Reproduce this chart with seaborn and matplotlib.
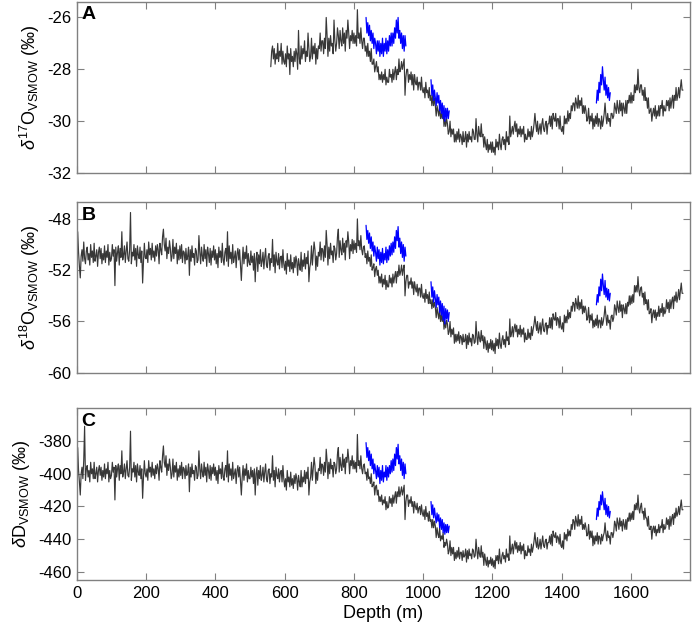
import numpy as np
import pandas as pd
import matplotlib
matplotlib.use('Agg')
import matplotlib.pyplot as plt
import seaborn as sns

# ---- values: grey record every 2.5 m, blue segments every 2.5 m
step = 2.5

# delta 17O (grey record starts at 560 m)
d17_start = 560.0
d17_gray = [
    -27.9, -27.3, -27.1, -27.6, -27.2, -27.8, -27.4, -27.6, -27.0, -27.7, -27.3, -27.5, -27.0, -27.8, -27.3, -27.7,
    # 600
    -27.8, -27.4, -27.9, -27.1, -27.6, -27.4, -28.2, -27.2, -27.7, -27.5, -27.9, -27.3, -27.7, -27.2, -27.4, -28.0, -26.5, -27.6, -27.8, -27.1,
    -27.6, -27.2, -27.4, -26.9, -27.7, -27.3, -27.5, -26.6, -27.2, -27.7, -27.5, -26.8, -27.6, -27.1, -27.4, -27.0, -27.8, -27.2, -27.6, -27.1,
    # 700
    -27.2, -26.6, -27.3, -26.9, -26.9, -27.4, -26.8, -27.2, -26.0, -26.7, -27.5, -26.8, -27.3, -26.7, -27.1, -27.0, -27.4, -26.1, -26.9, -27.3,
    -27.0, -26.4, -26.7, -27.2, -26.5, -26.9, -27.1, -26.4, -27.0, -26.6, -27.3, -26.5, -26.8, -26.1, -26.6, -27.2, -26.7, -26.9, -26.5, -27.0,
    # 800
    -26.6, -27.0, -26.7, -27.1, -25.7, -26.8, -26.6, -27.0, -26.4, -26.9, -27.2, -26.8, -26.8, -27.3, -27.1, -27.5, -27.0, -27.5, -27.3, -27.7,
    -27.2, -27.8, -27.8, -27.6, -28.1, -27.9, -27.7, -28.1, -27.9, -28.4, -28.2, -28.4, -28.1, -28.5, -28.2, -28.4, -28.0, -28.6, -28.3, -28.5,
    # 900
    -28.5, -28.0, -28.3, -28.2, -28.5, -28.0, -28.4, -28.1, -27.9, -28.4, -28.0, -28.2, -27.6, -28.1, -28.0, -27.7, -28.0, -27.8, -27.6, -29.0,
    -28.3, -28.0, -28.0, -28.5, -28.2, -28.4, -28.1, -28.6, -28.2, -28.8, -28.2, -28.5, -28.6, -28.3, -28.8, -28.5, -28.5, -28.8, -28.3, -28.8,
    # 1000
    -28.9, -28.7, -29.1, -28.5, -28.9, -28.8, -29.1, -28.7, -29.2, -29.0, -29.4, -29.0, -29.4, -29.1, -29.4, -29.8, -29.4, -29.6, -29.8, -29.4,
    -29.9, -29.7, -29.9, -29.6, -30.2, -29.9, -30.2, -29.9, -30.1, -30.5, -30.4, -30.0, -30.6, -30.3, -30.5, -30.3, -30.8, -30.5, -30.8, -30.4,
    # 1100
    -30.7, -30.3, -30.8, -30.5, -30.6, -30.9, -30.4, -30.8, -30.7, -30.4, -31.0, -30.5, -30.8, -30.4, -30.7, -30.6, -30.8, -30.3, -30.4, -30.7,
    -30.7, -29.9, -30.5, -30.8, -30.2, -30.5, -30.6, -30.1, -30.6, -30.5, -31.0, -30.6, -30.9, -31.1, -30.7, -31.2, -30.9, -31.1, -30.8, -31.2,
    # 1200
    -30.8, -31.2, -31.0, -31.3, -30.7, -31.0, -30.8, -31.1, -30.5, -30.9, -31.1, -30.7, -30.6, -30.9, -30.7, -31.1, -30.4, -30.8, -30.6, -30.9,
    -29.8, -30.6, -30.4, -30.2, -30.5, -30.2, -30.0, -30.4, -30.1, -30.6, -30.3, -30.5, -30.2, -30.6, -30.3, -30.5, -30.2, -30.8, -30.5, -30.7,
    # 1300
    -30.7, -30.3, -30.6, -30.4, -30.7, -30.2, -30.6, -30.4, -30.1, -29.7, -30.1, -30.4, -30.0, -30.5, -30.3, -30.1, -30.5, -30.1, -29.9, -30.3,
    -30.4, -30.1, -30.0, -30.5, -30.1, -30.1, -29.8, -30.2, -29.8, -30.3, -29.7, -29.9, -30.0, -29.7, -30.2, -29.9, -29.9, -30.3, -29.8, -30.3,
    # 1400
    -30.4, -30.2, -30.5, -29.8, -30.1, -29.9, -30.1, -29.6, -30.0, -29.7, -29.9, -29.4, -29.6, -29.3, -29.3, -29.6, -29.1, -29.3, -29.5, -29.0,
    -29.5, -29.2, -29.4, -29.1, -29.7, -29.4, -29.7, -29.4, -29.6, -30.0, -29.9, -29.5, -30.1, -29.8, -30.0, -29.7, -30.3, -29.9, -30.2, -29.8,
    # 1500
    -30.1, -29.7, -30.2, -29.9, -30.0, -30.3, -29.8, -30.2, -30.0, -29.7, -29.3, -29.8, -30.1, -29.7, -30.0, -29.9, -30.2, -29.7, -29.7, -29.9,
    -29.8, -29.3, -29.5, -29.7, -29.2, -29.5, -29.7, -29.2, -29.6, -29.3, -29.8, -29.3, -29.5, -29.7, -29.2, -29.7, -29.2, -29.3, -29.0, -29.3,
    # 1600
    -28.9, -29.3, -29.0, -29.2, -28.6, -28.9, -28.6, -28.8, -28.0, -28.7, -28.9, -28.6, -28.6, -29.0, -28.8, -29.2, -28.7, -29.2, -29.1, -29.5,
    -29.1, -29.7, -29.6, -29.5, -30.0, -29.7, -29.5, -29.8, -29.4, -29.9, -29.6, -29.8, -29.4, -29.8, -29.4, -29.5, -29.2, -29.8, -29.4, -29.6,
    # 1700
    -29.6, -29.2, -29.4, -29.2, -29.6, -29.1, -29.5, -29.2, -29.0, -29.5, -29.0, -29.2, -28.7, -29.2, -29.0, -28.7, -29.1, -28.7, -28.4, -28.8,
    -28.8,
]
d17_blue = [
    [-26.0, -26.6, -26.2, -26.7, -26.3, -26.9, -26.5, -27.0, -26.6, -27.2,
     -26.8, -27.0, -27.4, -26.9, -27.3, -26.9, -27.5, -27.0, -27.4, -26.8,
     -27.5, -27.0, -27.3, -26.8, -27.4, -26.9, -27.3, -26.7, -27.1, -26.6,
     -27.1, -26.6, -27.0, -26.4, -26.8, -26.1, -26.6, -26.0, -26.8, -26.5,
     -27.0, -26.6, -27.2, -26.7, -27.3, -26.7, -27.1],
    [-28.4, -29.0, -28.6, -29.2, -28.8, -29.1, -29.4, -28.9, -29.3, -29.0, -29.6,
     -29.2, -29.7, -29.3, -29.9, -29.4, -30.0, -29.5, -29.9, -29.5, -29.9, -29.6],
    [-29.3, -28.8, -29.2, -28.5, -28.9, -28.2, -28.6, -27.9, -28.4, -28.8, -28.3,
     -29.0, -28.6, -29.1, -28.7, -29.2, -28.9],
]

# delta 18O (grey record from 0 m)
d18_start = 0.0
d18_gray = [
    -50.3, -49.0, -50.6, -51.7, -52.6, -50.9, -50.4, -51.3, -49.8, -51.1, -51.5, -50.5, -50.2, -51.2, -50.7, -51.6, -50.0, -51.0, -50.5, -51.4,
    -49.9, -51.3, -50.9, -50.4, -51.7, -50.6, -50.2, -51.1, -50.3, -51.5, -50.7, -51.2, -50.1, -51.4, -50.5, -51.0, -50.0, -51.6, -50.6, -51.3,
    # 100
    -51.1, -50.0, -50.9, -50.4, -53.2, -50.2, -51.3, -50.6, -50.1, -51.6, -50.3, -51.0, -49.0, -51.2, -50.8, -50.1, -51.4, -50.5, -49.8, -51.1,
    -51.3, -50.4, -47.5, -51.5, -50.6, -50.9, -50.0, -51.2, -50.3, -51.7, -50.1, -50.8, -51.1, -50.2, -51.4, -50.5, -53.0, -51.3, -49.9, -51.0,
    # 200
    -51.1, -50.4, -51.4, -49.8, -50.8, -50.3, -51.2, -49.9, -51.0, -50.5, -51.3, -50.1, -50.9, -50.0, -50.4, -51.5, -49.9, -50.4, -50.8, -49.4,
    -48.8, -50.0, -50.5, -49.5, -51.1, -50.2, -50.7, -49.7, -50.3, -51.3, -50.9, -49.6, -51.1, -50.2, -50.7, -49.9, -51.5, -50.4, -51.2, -50.1,
    # 300
    -51.1, -50.0, -51.4, -50.5, -50.6, -51.5, -50.3, -51.2, -50.9, -50.2, -52.4, -50.4, -51.3, -50.1, -51.0, -50.7, -51.6, -50.3, -50.5, -51.4,
    -51.2, -49.3, -50.6, -51.5, -50.2, -50.9, -51.3, -50.0, -51.1, -50.4, -51.7, -50.2, -50.7, -51.4, -50.3, -51.6, -50.5, -51.0, -50.1, -51.2,
    # 400
    -50.4, -51.5, -50.7, -51.8, -50.2, -51.0, -50.5, -51.4, -49.9, -51.2, -51.6, -50.6, -50.3, -51.3, -49.0, -51.7, -50.1, -51.1, -50.6, -51.5,
    -50.0, -51.4, -51.0, -50.5, -51.8, -50.7, -50.3, -51.2, -50.4, -51.6, -52.8, -51.3, -50.2, -51.5, -50.6, -51.1, -50.1, -51.7, -50.7, -51.4,
    # 500
    -51.6, -50.5, -51.4, -50.9, -52.0, -50.7, -52.9, -51.1, -50.6, -52.1, -50.8, -51.5, -50.4, -51.7, -51.3, -50.6, -51.9, -51.0, -50.3, -51.6,
    -51.8, -50.9, -50.7, -52.0, -51.1, -51.4, -49.6, -51.7, -50.8, -52.2, -50.6, -51.3, -51.6, -50.7, -51.9, -51.0, -50.9, -51.8, -50.4, -51.5,
    # 600
    -52.0, -51.3, -52.3, -50.7, -51.7, -51.2, -52.1, -50.8, -51.9, -51.4, -52.2, -51.0, -51.8, -50.9, -51.3, -52.4, -51.1, -51.6, -52.0, -50.6,
    -52.1, -51.2, -51.7, -50.7, -51.9, -51.0, -51.5, -50.5, -52.9, -51.8, -51.4, -50.1, -51.6, -50.7, -49.8, -50.4, -52.0, -50.9, -51.7, -50.6,
    # 700
    -50.9, -49.8, -51.2, -50.3, -50.4, -51.3, -50.1, -51.0, -48.9, -50.0, -51.6, -50.2, -51.1, -49.9, -50.8, -50.5, -51.4, -50.1, -50.3, -51.2,
    -50.7, -49.4, -48.8, -51.0, -49.7, -50.4, -50.8, -49.5, -50.6, -49.9, -51.2, -49.7, -50.2, -49.0, -49.8, -51.1, -50.0, -50.5, -49.6, -50.7,
    # 800
    -49.7, -50.4, -49.9, -50.6, -48.0, -50.1, -49.7, -50.4, -49.3, -50.4, -50.8, -50.2, -50.1, -51.0, -50.7, -51.5, -50.5, -51.3, -51.0, -51.7,
    -50.8, -52.0, -51.8, -51.5, -52.5, -51.9, -51.7, -52.4, -52.0, -53.0, -52.5, -53.0, -52.3, -53.3, -52.7, -53.1, -52.4, -53.5, -52.8, -53.3,
    # 900
    -53.3, -52.4, -53.0, -52.6, -53.3, -52.3, -53.0, -52.5, -52.1, -53.0, -52.1, -52.5, -51.6, -52.4, -52.1, -51.6, -52.4, -51.9, -51.6, -54.0,
    -52.9, -52.4, -52.4, -53.4, -52.9, -53.1, -52.6, -53.4, -52.9, -53.9, -52.9, -53.4, -53.7, -53.1, -54.0, -53.4, -53.4, -54.1, -53.1, -54.0,
    # 1000
    -54.2, -53.8, -54.5, -53.5, -54.2, -53.9, -54.6, -53.7, -54.6, -54.3, -55.0, -54.3, -54.9, -54.5, -54.9, -55.7, -54.9, -55.4, -55.8, -54.9,
    -56.0, -55.5, -56.0, -55.4, -56.6, -56.0, -56.5, -55.9, -56.2, -57.0, -56.8, -56.0, -57.2, -56.6, -57.0, -56.5, -57.7, -57.0, -57.6, -57.0,
    # 1100
    -57.5, -56.8, -57.7, -57.1, -57.2, -57.8, -57.0, -57.6, -57.5, -57.0, -58.1, -57.1, -57.8, -56.9, -57.6, -57.3, -57.9, -57.0, -57.1, -57.7,
    -57.6, -56.0, -57.2, -57.8, -56.8, -57.3, -57.6, -56.7, -57.5, -57.1, -58.1, -57.2, -57.7, -58.2, -57.5, -58.4, -57.7, -58.1, -57.4, -58.2,
    # 1200
    -57.5, -58.3, -57.7, -58.5, -57.3, -57.9, -57.4, -58.1, -56.9, -57.8, -58.1, -57.4, -57.1, -57.8, -57.4, -58.0, -56.8, -57.5, -57.2, -57.8,
    -55.8, -57.2, -56.9, -56.4, -57.2, -56.5, -56.2, -56.8, -56.3, -57.2, -56.6, -57.0, -56.3, -57.2, -56.6, -57.0, -56.5, -57.6, -56.9, -57.4,
    # 1300
    -57.4, -56.6, -57.3, -56.9, -57.4, -56.4, -57.1, -56.6, -56.2, -55.6, -56.2, -56.7, -56.0, -56.9, -56.6, -56.1, -57.0, -56.3, -55.8, -56.7,
    -56.8, -56.2, -56.1, -57.0, -56.3, -56.5, -55.7, -56.5, -55.7, -56.6, -55.4, -55.8, -55.9, -55.3, -56.3, -55.7, -55.8, -56.5, -55.6, -56.4,
    # 1400
    -56.6, -56.1, -56.8, -55.5, -56.1, -55.6, -56.1, -55.1, -55.8, -55.3, -55.7, -54.8, -55.2, -54.5, -54.6, -55.2, -54.2, -54.6, -55.0, -54.0,
    -55.1, -54.5, -55.0, -54.3, -55.4, -54.8, -55.3, -54.8, -55.1, -55.9, -55.7, -54.9, -56.1, -55.5, -55.9, -55.4, -56.5, -55.9, -56.4, -55.8,
    # 1500
    -56.3, -55.5, -56.5, -55.9, -55.9, -56.5, -55.7, -56.3, -56.0, -55.5, -54.8, -55.6, -56.3, -55.5, -56.1, -55.9, -56.6, -55.6, -55.5, -56.0,
    -55.7, -54.7, -55.0, -55.5, -54.4, -54.9, -55.3, -54.4, -55.2, -54.7, -55.7, -54.7, -55.0, -55.4, -54.6, -55.4, -54.5, -54.8, -54.0, -54.7,
    # 1600
    -54.0, -54.6, -53.9, -54.5, -53.2, -53.7, -53.2, -53.7, -52.5, -53.5, -54.0, -53.4, -53.3, -54.1, -53.8, -54.7, -53.7, -54.6, -54.3, -55.1,
    -54.3, -55.4, -55.3, -55.0, -56.1, -55.4, -55.1, -55.7, -55.1, -55.9, -55.3, -55.6, -54.8, -55.6, -55.0, -55.3, -54.6, -55.6, -54.9, -55.4,
    # 1700
    -55.2, -54.3, -55.0, -54.5, -55.3, -54.3, -55.0, -54.4, -54.1, -55.0, -54.0, -54.4, -53.7, -54.5, -54.1, -53.5, -54.3, -53.6, -53.0, -53.8,
    -53.8,
]
d18_blue = [
    [-48.5, -49.6, -48.9, -49.9, -49.1, -50.3, -49.4, -50.5, -49.8, -50.9,
     -50.1, -50.6, -51.3, -50.2, -51.1, -50.4, -51.6, -50.6, -51.4, -50.3,
     -51.5, -50.7, -51.2, -50.2, -51.4, -50.4, -51.2, -50.1, -50.9, -49.9,
     -50.8, -49.8, -50.6, -49.4, -50.3, -48.9, -49.7, -48.6, -50.2, -49.5,
     -50.7, -49.8, -51.0, -50.0, -51.3, -50.2, -50.9],
    [-52.9, -54.1, -53.3, -54.5, -53.6, -54.2, -54.9, -53.9, -54.7, -54.1, -55.3,
     -54.4, -55.5, -54.6, -55.9, -54.8, -56.2, -55.0, -55.8, -55.1, -56.0, -55.3],
    [-54.7, -53.9, -54.5, -53.3, -54.0, -52.7, -53.6, -52.3, -53.2, -53.9, -52.8,
     -54.1, -53.4, -54.3, -53.5, -54.4, -53.8],
]

# delta D (grey record from 0 m)
dD_start = 0.0
dD_gray = [
    -396, -384, -398, -405, -413, -400, -396, -403, -392, -371, -404, -397, -395, -402, -398, -405, -393, -400, -397, -403,
    -393, -403, -400, -396, -405, -398, -395, -401, -396, -404, -398, -402, -394, -403, -397, -400, -393, -405, -398, -403,
    # 100
    -401, -393, -399, -396, -416, -395, -402, -397, -394, -404, -395, -400, -386, -402, -399, -394, -403, -397, -392, -401,
    -402, -396, -374, -404, -397, -399, -393, -402, -395, -405, -394, -399, -401, -395, -403, -397, -415, -402, -392, -400,
    # 200
    -402, -397, -404, -392, -399, -396, -402, -393, -401, -397, -403, -395, -400, -394, -397, -404, -392, -396, -399, -389,
    -383, -393, -396, -389, -401, -394, -398, -391, -396, -403, -400, -391, -402, -395, -399, -393, -404, -397, -402, -395,
    # 300
    -401, -393, -403, -396, -397, -403, -395, -401, -399, -394, -411, -396, -402, -394, -400, -398, -404, -395, -396, -403,
    -401, -386, -397, -403, -394, -399, -402, -393, -401, -396, -405, -394, -398, -403, -395, -404, -396, -400, -394, -401,
    # 400
    -396, -404, -398, -406, -395, -400, -397, -403, -393, -402, -404, -397, -395, -402, -386, -405, -394, -401, -397, -404,
    -393, -403, -400, -397, -406, -398, -395, -402, -396, -404, -413, -402, -395, -404, -397, -401, -394, -405, -398, -403,
    # 500
    -403, -396, -402, -398, -406, -397, -413, -400, -396, -407, -398, -403, -395, -404, -401, -396, -405, -399, -394, -403,
    -405, -398, -397, -406, -400, -402, -389, -404, -398, -408, -396, -401, -403, -397, -405, -399, -398, -405, -395, -403,
    # 600
    -408, -403, -410, -398, -405, -402, -408, -399, -407, -403, -409, -401, -406, -400, -403, -410, -401, -405, -408, -398,
    -408, -402, -405, -398, -406, -399, -403, -396, -413, -405, -402, -393, -404, -397, -390, -395, -406, -399, -404, -397,
    # 700
    -398, -390, -400, -394, -395, -401, -393, -399, -385, -392, -403, -393, -400, -391, -397, -395, -402, -393, -394, -400,
    -397, -388, -384, -399, -390, -395, -398, -388, -396, -391, -400, -390, -393, -385, -391, -400, -392, -395, -389, -397,
    # 800
    -392, -397, -393, -399, -376, -395, -392, -397, -389, -397, -400, -395, -394, -400, -399, -404, -397, -403, -402, -406,
    -400, -408, -407, -405, -413, -408, -407, -413, -410, -417, -414, -417, -413, -419, -416, -418, -414, -422, -417, -421,
    # 900
    -420, -414, -418, -415, -420, -413, -418, -414, -411, -418, -411, -414, -408, -414, -411, -408, -413, -410, -407, -428,
    -417, -413, -413, -420, -416, -418, -414, -420, -417, -424, -417, -420, -422, -418, -424, -421, -420, -425, -419, -424,
    # 1000
    -426, -422, -428, -420, -426, -424, -429, -423, -429, -428, -433, -428, -433, -429, -432, -439, -433, -437, -439, -433,
    -441, -438, -440, -436, -445, -442, -444, -440, -443, -449, -447, -441, -450, -445, -449, -445, -453, -448, -452, -447,
    # 1100
    -451, -445, -452, -448, -448, -453, -447, -451, -450, -446, -454, -447, -452, -446, -450, -449, -452, -446, -447, -451,
    -450, -440, -447, -452, -445, -449, -451, -444, -451, -448, -456, -449, -453, -456, -451, -457, -453, -455, -451, -456,
    # 1200
    -452, -457, -453, -458, -450, -453, -450, -455, -446, -453, -455, -450, -448, -452, -450, -454, -446, -451, -449, -453,
    -438, -449, -446, -443, -449, -444, -441, -446, -442, -448, -444, -447, -442, -449, -444, -447, -443, -452, -447, -450,
    # 1300
    -450, -444, -448, -446, -450, -443, -448, -445, -441, -436, -442, -445, -439, -446, -444, -440, -446, -442, -438, -444,
    -445, -441, -440, -446, -442, -442, -438, -443, -437, -444, -435, -438, -439, -436, -442, -438, -439, -443, -437, -444,
    # 1400
    -445, -441, -446, -436, -440, -437, -441, -434, -438, -435, -438, -431, -434, -428, -429, -434, -426, -429, -432, -425,
    -432, -428, -431, -426, -434, -431, -434, -430, -433, -438, -437, -431, -440, -435, -439, -435, -444, -438, -443, -438,
    # 1500
    -441, -436, -443, -438, -439, -443, -437, -441, -438, -436, -430, -437, -441, -435, -439, -438, -443, -436, -436, -439,
    -436, -429, -431, -435, -427, -430, -434, -427, -432, -429, -435, -428, -431, -434, -428, -434, -427, -429, -424, -429,
    # 1600
    -424, -428, -423, -428, -419, -422, -418, -422, -413, -421, -424, -420, -418, -424, -423, -428, -421, -427, -427, -432,
    -426, -434, -434, -432, -440, -434, -432, -436, -432, -438, -434, -436, -431, -436, -432, -433, -428, -436, -431, -434,
    # 1700
    -433, -427, -431, -428, -434, -426, -432, -427, -425, -431, -424, -427, -421, -426, -424, -420, -425, -420, -416, -422,
    -422,
]
dD_blue = [
    [-381, -390, -384, -392, -386, -395, -388, -397, -391, -400,
     -394, -398, -403, -395, -402, -396, -406, -398, -404, -395,
     -405, -399, -402, -395, -404, -396, -402, -395, -400, -392,
     -399, -391, -398, -388, -395, -384, -391, -382, -394, -389,
     -398, -391, -401, -393, -403, -394, -400],
    [-417, -425, -419, -427, -421, -426, -430, -424, -429, -425, -433,
     -427, -434, -428, -436, -430, -437, -431, -436, -431, -436, -432],
    [-428, -421, -426, -417, -422, -413, -419, -411, -417, -422, -415,
     -425, -419, -426, -420, -427, -423],
]
blue_starts = [835.0, 1022.5, 1500.0]

panels = [
    ('A', d17_start, d17_gray, d17_blue, r'$\delta^{17}$O$_{\mathrm{VSMOW}}$ (‰)', (-32, -25.4), [-26, -28, -30, -32]),
    ('B', d18_start, d18_gray, d18_blue, r'$\delta^{18}$O$_{\mathrm{VSMOW}}$ (‰)', (-60, -46.7), [-48, -52, -56, -60]),
    ('C', dD_start, dD_gray, dD_blue, r'$\delta$D$_{\mathrm{VSMOW}}$ (‰)', (-465, -360), [-380, -400, -420, -440, -460]),
]
xticks = [0, 200, 400, 600, 800, 1000, 1200, 1400, 1600]

sns.set_style('white')
plt.rcParams['font.family'] = ['Liberation Sans', 'DejaVu Sans']
plt.rcParams['mathtext.fontset'] = 'custom'
plt.rcParams['mathtext.rm'] = 'Liberation Sans'
plt.rcParams['mathtext.it'] = 'Liberation Sans:italic'
plt.rcParams['text.color'] = 'black'
plt.rcParams['axes.labelcolor'] = 'black'

fig = plt.figure(figsize=(6.92, 6.34), dpi=100)
boxes = [(0.111, 0.727, 0.886, 0.270), (0.111, 0.412, 0.886, 0.269), (0.111, 0.085, 0.886, 0.271)]
frame = '#808080'

for (letter, start, gray, blues, ylabel, ylim, yticks), box in zip(panels, boxes):
    ax = fig.add_axes(box)
    g = pd.DataFrame({'depth': start + step * np.arange(len(gray)), 'val': gray})
    sns.lineplot(data=g, x='depth', y='val', ax=ax, color='#383838', lw=0.85, estimator=None)
    for b0, seg in zip(blue_starts, blues):
        b = pd.DataFrame({'depth': b0 + step * np.arange(len(seg)), 'val': seg})
        sns.lineplot(data=b, x='depth', y='val', ax=ax, color='#0000ff', lw=0.9, estimator=None)
    ax.set_xlim(0, 1770)
    ax.set_ylim(*ylim)
    ax.set_xticks(xticks)
    ax.set_yticks(yticks)
    ax.set_yticklabels([str(t) for t in yticks])
    ax.tick_params(direction='in', bottom=True, left=True, top=True, right=True,
                   length=5, width=0.8, color=frame, labelcolor='black',
                   labelsize=12, pad=4)
    for s in ax.spines.values():
        s.set_color(frame)
        s.set_linewidth(1.0)
    ax.set_ylabel(ylabel, fontsize=13, labelpad=4)
    ax.text(0.008, 0.975, letter, transform=ax.transAxes, fontsize=14,
            fontweight='bold', va='top', ha='left')
    if letter != 'C':
        ax.set_xticklabels([])
        ax.set_xlabel('')
    else:
        ax.set_xticklabels([str(t) for t in xticks])
        ax.set_xlabel('Depth (m)', fontsize=13, labelpad=3)

fig.savefig('out.png', dpi=100)
